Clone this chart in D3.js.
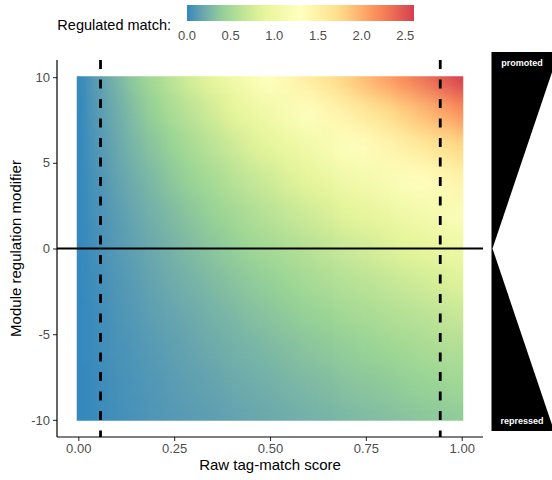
<!DOCTYPE html>
<html>
<head>
<meta charset="utf-8">
<script src="https://cdn.jsdelivr.net/npm/d3@7"></script>
<style>
  html, body { margin: 0; padding: 0; background: #fff; }
  svg { display: block; font-family: "Liberation Sans", Arial, Helvetica, sans-serif; }
</style>
</head>
<body>
<svg id="chart" width="552" height="480"></svg>
<script>
// ---- data ----
const rawScores = [0, 0.05, 0.10, 0.15, 0.20, 0.25, 0.30, 0.35, 0.40, 0.45, 0.50,
                   0.55, 0.60, 0.65, 0.70, 0.75, 0.80, 0.85, 0.90, 0.95, 1.00];
const modifiers = [10, 8, 6, 4, 2, 0, -2, -4, -6, -8, -10];
// one row per modifier (same order as `modifiers`), one value per raw score
const regulatedMatch = [
  [0, .13, .26, .39, .52, .65, .78, .91, 1.04, 1.17, 1.30, 1.43, 1.56, 1.69, 1.82, 1.95, 2.08, 2.21, 2.34, 2.47, 2.60],
  [0, .11, .21, .32, .43, .54, .64, .75, .86, .97, 1.07, 1.18, 1.29, 1.40, 1.50, 1.61, 1.72, 1.83, 1.93, 2.04, 2.15],
  [0, .09, .18, .27, .35, .44, .53, .62, .71, .80, .89, .98, 1.06, 1.15, 1.24, 1.33, 1.42, 1.51, 1.60, 1.69, 1.77],
  [0, .07, .15, .22, .29, .37, .44, .51, .59, .66, .73, .81, .88, .95, 1.03, 1.10, 1.17, 1.25, 1.32, 1.39, 1.47],
  [0, .06, .12, .18, .24, .30, .36, .42, .48, .54, .61, .67, .73, .79, .85, .91, .97, 1.03, 1.09, 1.15, 1.21],
  [0, .05, .10, .15, .20, .25, .30, .35, .40, .45, .50, .55, .60, .65, .70, .75, .80, .85, .90, .95, 1.00],
  [0, .04, .08, .12, .17, .21, .25, .29, .33, .37, .41, .45, .50, .54, .58, .62, .66, .70, .74, .78, .83],
  [0, .03, .07, .10, .14, .17, .20, .24, .27, .31, .34, .38, .41, .44, .48, .51, .55, .58, .61, .65, .68],
  [0, .03, .06, .08, .11, .14, .17, .20, .23, .25, .28, .31, .34, .37, .39, .42, .45, .48, .51, .54, .56],
  [0, .02, .05, .07, .09, .12, .14, .16, .19, .21, .23, .26, .28, .30, .33, .35, .37, .40, .42, .44, .47],
  [0, .02, .04, .06, .08, .10, .12, .13, .15, .17, .19, .21, .23, .25, .27, .29, .31, .33, .35, .37, .38]
];
const thresholds = [0.058, 0.944];
const baselineModifier = [0];
const xTicks = [0, 0.25, 0.5, 0.75, 1];
const yTicks = [-10, -5, 0, 5, 10];
const legendTicks = [0, 0.5, 1.0, 1.5, 2.0, 2.5];
const legendRange = [0, 2.6];
const paletteColors = ["#3288bd", "#99d594", "#e6f598", "#ffffbf", "#fee08b", "#fc8d59", "#d53e4f"];
const sideLabels = ["promoted", "repressed"];
const titles = { legend: "Regulated match:", x: "Raw tag-match score", y: "Module regulation modifier" };

// ---- layout ----
const svg = d3.select("#chart");
const panel = { left: 57, right: 483, top: 60, bottom: 437 };
const rawStep = 0.05, modStep = 2;

const x = d3.scaleLinear().domain([-0.0555, 1.0555]).range([panel.left, panel.right]);
const y = d3.scaleLinear().domain([-11, 11]).range([panel.bottom, panel.top]);
const color = d3.scaleLinear()
  .domain(paletteColors.map((_, i) => legendRange[0] + i / (paletteColors.length - 1) * (legendRange[1] - legendRange[0])))
  .range(paletteColors)
  .interpolate(d3.interpolateLab)
  .clamp(true);

const defs = svg.append("defs");
const filt = defs.append("filter").attr("id", "smooth")
  .attr("x", "-10%").attr("y", "-10%").attr("width", "120%").attr("height", "120%")
  .attr("color-interpolation-filters", "sRGB");
filt.append("feGaussianBlur").attr("stdDeviation", "7 12");
filt.append("feComponentTransfer").append("feFuncA").attr("type", "table").attr("tableValues", "1 1");

defs.append("clipPath").attr("id", "heatClip").append("rect")
  .attr("x", x(-0.004)).attr("y", y(10.05))
  .attr("width", x(1.004) - x(-0.004)).attr("height", y(-10.05) - y(10.05));

// ---- heatmap cells ----
const cells = [];
modifiers.forEach((m, i) => rawScores.forEach((r, j) => cells.push({ r, m, v: regulatedMatch[i][j] })));

svg.append("g").attr("clip-path", "url(#heatClip)")
  .append("g").attr("filter", "url(#smooth)")
  .selectAll("rect").data(cells).join("rect")
  .attr("x", d => x(d.r - rawStep / 2))
  .attr("y", d => y(d.m + modStep / 2))
  .attr("width", d => x(d.r + rawStep / 2) - x(d.r - rawStep / 2) + 0.5)
  .attr("height", d => y(d.m - modStep / 2) - y(d.m + modStep / 2) + 0.5)
  .attr("fill", d => color(d.v));

// ---- reference lines ----
svg.append("g").selectAll("line").data(thresholds).join("line")
  .attr("x1", d => x(d)).attr("x2", d => x(d))
  .attr("y1", panel.top).attr("y2", panel.bottom)
  .attr("stroke", "#000").attr("stroke-width", 2.8)
  .attr("stroke-dasharray", "9 10.5");

svg.append("g").selectAll("line").data(baselineModifier).join("line")
  .attr("x1", panel.left).attr("x2", panel.right)
  .attr("y1", d => y(d)).attr("y2", d => y(d))
  .attr("stroke", "#000").attr("stroke-width", 2.2);

// ---- axes ----
const xAxis = svg.append("g").attr("transform", `translate(0,${panel.bottom})`)
  .call(d3.axisBottom(x).tickValues(xTicks).tickFormat(d3.format(".2f")).tickSize(4).tickPadding(3));
const yAxis = svg.append("g").attr("transform", `translate(${panel.left},0)`)
  .call(d3.axisLeft(y).tickValues(yTicks).tickFormat(d => String(d)).tickSize(4).tickPadding(3));
[xAxis, yAxis].forEach(a => {
  a.select(".domain").remove();
  a.selectAll(".tick line").attr("stroke", "#333").attr("stroke-width", 1.1);
  a.selectAll(".tick text").attr("fill", "#4d4d4d").style("font-size", "13px").style("font-family", "Liberation Sans, Arial, sans-serif");
});
svg.append("line").attr("x1", panel.left).attr("x2", panel.right)
  .attr("y1", panel.bottom).attr("y2", panel.bottom).attr("stroke", "#000").attr("stroke-width", 1.2);
svg.append("line").attr("x1", panel.left).attr("x2", panel.left)
  .attr("y1", panel.top).attr("y2", panel.bottom).attr("stroke", "#000").attr("stroke-width", 1.2);

svg.append("text").attr("x", (panel.left + panel.right) / 2).attr("y", 470)
  .attr("text-anchor", "middle").style("font-size", "15px").attr("fill", "#000").text(titles.x);
svg.append("text").attr("transform", `translate(21,${(panel.top + panel.bottom) / 2}) rotate(-90)`)
  .attr("text-anchor", "middle").style("font-size", "15px").attr("fill", "#000").text(titles.y);

// ---- legend (colour bar) ----
const lx = d3.scaleLinear().domain(legendRange).range([187, 414]);
const grad = defs.append("linearGradient").attr("id", "legendGrad");
d3.range(0, 1.0001, 0.05).forEach(t => {
  grad.append("stop").attr("offset", `${t * 100}%`)
    .attr("stop-color", color(legendRange[0] + t * (legendRange[1] - legendRange[0])));
});
svg.append("rect").attr("x", lx(legendRange[0])).attr("y", 5)
  .attr("width", lx(legendRange[1]) - lx(legendRange[0])).attr("height", 16)
  .attr("fill", "url(#legendGrad)");
svg.append("g").selectAll("text").data(legendTicks).join("text")
  .attr("x", d => lx(d)).attr("y", 40).attr("text-anchor", "middle")
  .style("font-size", "13px").attr("fill", "#4d4d4d").text(d => d3.format(".1f")(d));
svg.append("text").attr("x", 171).attr("y", 30).attr("text-anchor", "end")
  .style("font-size", "14.5px").attr("fill", "#000").text(titles.legend);

// ---- side glyph: promoted / repressed ----
const apexY = y(0);
svg.append("rect").attr("x", 491.5).attr("y", 52).attr("width", 70).attr("height", 379).attr("fill", "#000");
svg.append("polygon")
  .attr("points", [[492.5, apexY], [560, apexY - 200], [560, apexY + 200]].map(p => p.join(",")).join(" "))
  .attr("fill", "#fff");
svg.append("g").selectAll("text").data(sideLabels).join("text")
  .attr("x", 522).attr("y", (d, i) => i === 0 ? 66 : 424)
  .attr("text-anchor", "middle").style("font-size", "9px").style("font-weight", "bold")
  .attr("fill", "#fff").text(d => d);
</script>
</body>
</html>
